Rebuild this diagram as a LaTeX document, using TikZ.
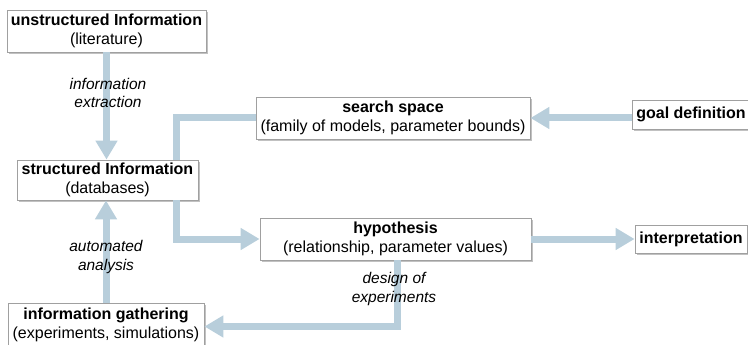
\documentclass[tikz,border=0pt]{standalone}
\usepackage{fontspec}
\setmainfont{Liberation Sans}
\usetikzlibrary{arrows.meta,shadows,calc}
\definecolor{barblue}{RGB}{184,206,219}
\definecolor{boxgray}{RGB}{160,160,160}
\tikzset{
  box/.style={draw=boxgray, line width=0.8pt, fill=white, align=center, inner sep=0pt,
    font=\fontsize{16}{19.5}\selectfont,
    drop shadow={shadow xshift=1.6pt, shadow yshift=-1.6pt, fill=black!35, opacity=0.7}},
  bar/.style={draw=barblue, line width=7pt},
  barar/.style={bar, -{Triangle[width=21pt,length=19pt]}},
  lbl/.style={align=center, font=\fontsize{15.5}{18.5}\selectfont\itshape, inner sep=0pt}
}
\begin{document}
\begin{tikzpicture}[x=1pt,y=-1pt]
\useasboundingbox (0,0) rectangle (748,345);
\node[box, minimum width=199pt, minimum height=42pt] (unstr) at (106.5,31) {\textbf{unstructured Information}\\(literature)};
\node[box, minimum width=181pt, minimum height=40pt] (struct) at (107.5,180) {\textbf{structured Information}\\(databases)};
\node[box, minimum width=196pt, minimum height=44pt] (gather) at (106,325) {\textbf{information gathering}\\(experiments, simulations)};
\node[box, minimum width=274pt, minimum height=42pt] (search) at (393,118) {\textbf{search space}\\(family of models, parameter bounds)};
\node[box, minimum width=271pt, minimum height=42pt] (hyp) at (395.5,239) {\textbf{hypothesis}\\(relationship, parameter values)};
\node[box, minimum width=118pt, minimum height=29pt] (goal) at (691,114.5) {\textbf{goal definition}};
\node[box, minimum width=112pt, minimum height=28pt] (interp) at (691,239) {\textbf{interpretation}};

\draw[barar] (unstr.south) -- (unstr.south |- struct.north);
\draw[barar] (gather.north) -- (gather.north |- struct.south);
\draw[bar] ([xshift=68.5pt]struct.north) |- ([xshift=0.4pt]search.west);
\draw[barar] ([xshift=68.5pt]struct.south) |- (hyp.west);
\draw[barar] (goal.west |- search.east) -- (search.east);
\draw[barar] (hyp.east) -- (interp.west);
\draw[barar] ([xshift=1.5pt]hyp.south) |- ([yshift=-1.5pt]gather.east);

\node[lbl] (l1) at (108,93) {information\\extraction};
\node[lbl] (l2) at (106,257) {automated\\analysis};
\node[lbl] (l3) at (394,289) {design of\\experiments};
\end{tikzpicture}
\end{document}
